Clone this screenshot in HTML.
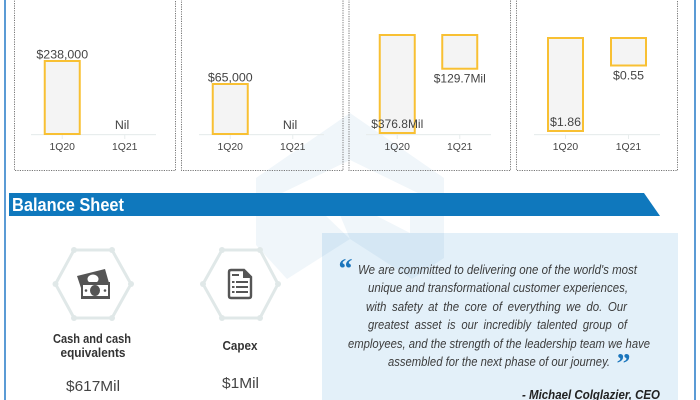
<!DOCTYPE html>
<html lang="en">
<head>
<meta charset="utf-8">
<title>Balance Sheet Infographic</title>
<style>
html,body{margin:0;padding:0;background:#fff;width:700px;height:400px;overflow:hidden}
svg{display:block;font-family:"Liberation Sans",sans-serif}
</style>
</head>
<body>
<svg id="page" width="700" height="400" viewBox="0 0 700 400">
  <rect x="0" y="0" width="700" height="400" fill="#fff"/>
  <rect x="4" y="0" width="2" height="400" fill="#5b9bd5"/>
  <rect x="694" y="0" width="2" height="400" fill="#5b9bd5"/>

  <g fill="#f0f6fa">
    <path d="M256 178 L350 113 L444 178 L444 194 L420 194 L350 160 L280 194 L256 194 Z"/>
    <path d="M256 215 H325 L350 239 L287 279 L256 245 Z"/>
    <path d="M350 239 L412 279 L444 258 V215 H410 V233 L375 215 H340 Z"/>
  </g>

  <g id="charts"></g>

  <path d="M9 193 H644 L660 216 H9 Z" fill="#0f78bd"/>
  <text x="12" y="211" font-size="18" font-weight="bold" fill="#fff" textLength="112" lengthAdjust="spacingAndGlyphs">Balance Sheet</text>

  <g fill="#e0e8e8">
    <polygon points="55.5,284 74,250 112,250 131,284 112,318 74,318" fill="none" stroke="#e0e8e8" stroke-width="3"/>
    <circle cx="55.5" cy="284" r="3"/><circle cx="74" cy="250" r="3"/><circle cx="112" cy="250" r="3"/>
    <circle cx="131" cy="284" r="3"/><circle cx="112" cy="318" r="3"/><circle cx="74" cy="318" r="3"/>
  </g>
  <g>
    <polygon points="77,276 105,269 109,283 82,291" fill="#555"/>
    <ellipse cx="93" cy="279" rx="5.5" ry="4.5" fill="#fff"/>
    <rect x="81" y="282" width="29" height="17" fill="#555"/>
    <rect x="83" y="285" width="25" height="11" fill="#fff"/>
    <ellipse cx="95" cy="290.5" rx="5" ry="5.5" fill="#555"/>
    <circle cx="86" cy="290.5" r="1.3" fill="#555"/><circle cx="105" cy="290.5" r="1.3" fill="#555"/>
  </g>
  <text x="92" y="343" text-anchor="middle" font-size="12.5" fill="#333" font-weight="bold" textLength="78" lengthAdjust="spacingAndGlyphs">Cash and cash</text>
  <text x="93" y="357" text-anchor="middle" font-size="12.5" fill="#333" font-weight="bold" textLength="65" lengthAdjust="spacingAndGlyphs">equivalents</text>
  <text x="93" y="391" text-anchor="middle" font-size="15" fill="#444" textLength="54" lengthAdjust="spacingAndGlyphs">$617Mil</text>

  <g fill="#e0e8e8">
    <polygon points="203,284 222,250 260,250 278,284 260,318 222,318" fill="none" stroke="#e0e8e8" stroke-width="3"/>
    <circle cx="203" cy="284" r="3"/><circle cx="222" cy="250" r="3"/><circle cx="260" cy="250" r="3"/>
    <circle cx="278" cy="284" r="3"/><circle cx="260" cy="318" r="3"/><circle cx="222" cy="318" r="3"/>
  </g>
  <g>
    <path d="M231 270 H244 L251 277 V296 Q251 298 249 298 H231 Q229 298 229 296 V272 Q229 270 231 270 Z" fill="#fff" stroke="#555" stroke-width="2.4"/>
    <path d="M243 270 L251 278 H243 Z" fill="#555"/>
    <rect x="232" y="274" width="7" height="2" fill="#555"/>
    <rect x="232" y="281" width="2.5" height="2" fill="#555"/><rect x="236" y="281" width="12" height="2" fill="#555"/>
    <rect x="232" y="286" width="2.5" height="2" fill="#555"/><rect x="236" y="286" width="12" height="2" fill="#555"/>
    <rect x="232" y="291" width="2.5" height="2" fill="#555"/><rect x="236" y="291" width="12" height="2" fill="#555"/>
  </g>
  <text x="240" y="350" text-anchor="middle" font-size="12.5" fill="#333" font-weight="bold" textLength="35" lengthAdjust="spacingAndGlyphs">Capex</text>
  <text x="240.5" y="388" text-anchor="middle" font-size="15" fill="#444" textLength="37" lengthAdjust="spacingAndGlyphs">$1Mil</text>

  <rect x="322" y="233" width="356" height="167" fill="#e3f0f9" style="mix-blend-mode:multiply"/>
  <text x="338.5" y="278" font-family="'Liberation Serif',serif" font-size="28" font-weight="bold" fill="#1a75bc">“</text>
  <text x="616.5" y="373" font-family="'Liberation Serif',serif" font-size="28" font-weight="bold" fill="#1a75bc">”</text>
  <g font-size="12.5" font-style="italic" fill="#3c3c3c">
    <text x="358" y="274" textLength="279" lengthAdjust="spacingAndGlyphs">We are committed to delivering one of the world's most</text>
    <text x="368" y="292" textLength="260" lengthAdjust="spacingAndGlyphs">unique and transformational customer experiences,</text>
    <text x="366" y="311" textLength="261" lengthAdjust="spacingAndGlyphs" word-spacing="2.5" style="word-spacing:2.5px">with safety at the core of everything we do. Our</text>
    <text x="368" y="329" textLength="259" lengthAdjust="spacingAndGlyphs" word-spacing="3" style="word-spacing:3px">greatest asset is our incredibly talented group of</text>
    <text x="348" y="348" textLength="302" lengthAdjust="spacingAndGlyphs">employees, and the strength of the leadership team we have</text>
    <text x="388" y="366" textLength="222" lengthAdjust="spacingAndGlyphs">assembled for the next phase of our journey.</text>
  </g>
  <text x="522" y="399" font-size="13" font-style="italic" font-weight="bold" fill="#222" textLength="138" lengthAdjust="spacingAndGlyphs">- Michael Colglazier, CEO</text>
</svg>
<script>
const categories = ['1Q20', '1Q21'];
const chartOneValues = [238000, null];
const chartOneLabels = ['$238,000', 'Nil'];
const chartTwoValues = [65000, null];
const chartTwoLabels = ['$65,000', 'Nil'];
const chartThreeValues = [376.8, 129.7];
const chartThreeLabels = ['$376.8Mil', '$129.7Mil'];
const chartFourValues = [1.86, 0.55];
const chartFourLabels = ['$1.86', '$0.55'];

const NS = 'http://www.w3.org/2000/svg';
const root = document.getElementById('charts');
const BAR_W = 35;
const PLOT_H = 100;
const TICK_Y = 150;

function make(tag, attrs, parent) {
  const el = document.createElementNS(NS, tag);
  for (const k in attrs) el.setAttribute(k, attrs[k]);
  parent.appendChild(el);
  return el;
}

function xBand(i, left, width) {
  return left + (i + 0.5) * width / categories.length;
}

function drawChart(cfg) {
  const g = make('g', {}, root);
  
  

  const frame = make('rect', {x: cfg.frameX, y: -6, width: cfg.frameW, height: 176.5, fill: 'none', stroke: '#777', 'stroke-width': 1, 'stroke-dasharray': '1.2 1.2'}, g);
  
  

  const axis = make('rect', {x: cfg.left, y: 134, width: cfg.width, height: 1.2, fill: '#e8eded'}, g);
  
  

  const yOf = v => cfg.reversed
    ? cfg.zeroY + v / cfg.max * PLOT_H
    : cfg.zeroY - v / cfg.max * PLOT_H;

  categories.forEach((c, i) => {
    const cx = xBand(i, cfg.left, cfg.width);
    const tick = make('rect', {x: cx - 0.5, y: 134, width: 1, height: 5, fill: '#e8eded'}, g);
    
    

    const tl = make('text', {x: cx, y: TICK_Y, 'text-anchor': 'middle', 'font-size': 10.4, fill: '#444'}, g);
    tl.textContent = c;
    
    

    const v = cfg.values[i];
    let labelY, labelX = cx;
    if (v !== null) {
      const y0 = yOf(0), y1 = yOf(v);
      const top = Math.min(y0, y1), h = Math.abs(y1 - y0);
      const bar = make('rect', {x: cx - BAR_W / 2, y: top, width: BAR_W, height: h, fill: '#f4f4f4', stroke: '#f8c033', 'stroke-width': 2}, g);
      
      
      if (cfg.reversed) {
        labelY = y1 + 14 > 128 ? y1 - 5 : y1 + 14;
      } else {
        labelY = y1 - 2.5;
      }
    } else {
      labelY = 129;
      labelX = cx - 2.7;
    }
    const lab = make('text', {x: labelX, y: labelY, 'text-anchor': 'middle', 'font-size': cfg.labelSize, fill: '#444'}, g);
    lab.textContent = cfg.labels[i];
    
    
  });
}

drawChart({name: 'chart-panel-1', frameX: 14.5, frameW: 161, left: 31, width: 125, zeroY: 134, max: 326000, reversed: false, values: chartOneValues, labels: chartOneLabels, labelSize: 12.4});
drawChart({name: 'chart-panel-2', frameX: 181.5, frameW: 161.5, left: 199, width: 125, zeroY: 134, max: 130000, reversed: false, values: chartTwoValues, labels: chartTwoLabels, labelSize: 12.4});
drawChart({name: 'chart-panel-3', frameX: 349, frameW: 161.5, left: 366, width: 125, zeroY: 35, max: 384.5, reversed: true, values: chartThreeValues, labels: chartThreeLabels, labelSize: 12});
drawChart({name: 'chart-panel-4', frameX: 516.5, frameW: 161, left: 534, width: 126, zeroY: 38, max: 2, reversed: true, values: chartFourValues, labels: chartFourLabels, labelSize: 12.4});
</script>
</body>
</html>
